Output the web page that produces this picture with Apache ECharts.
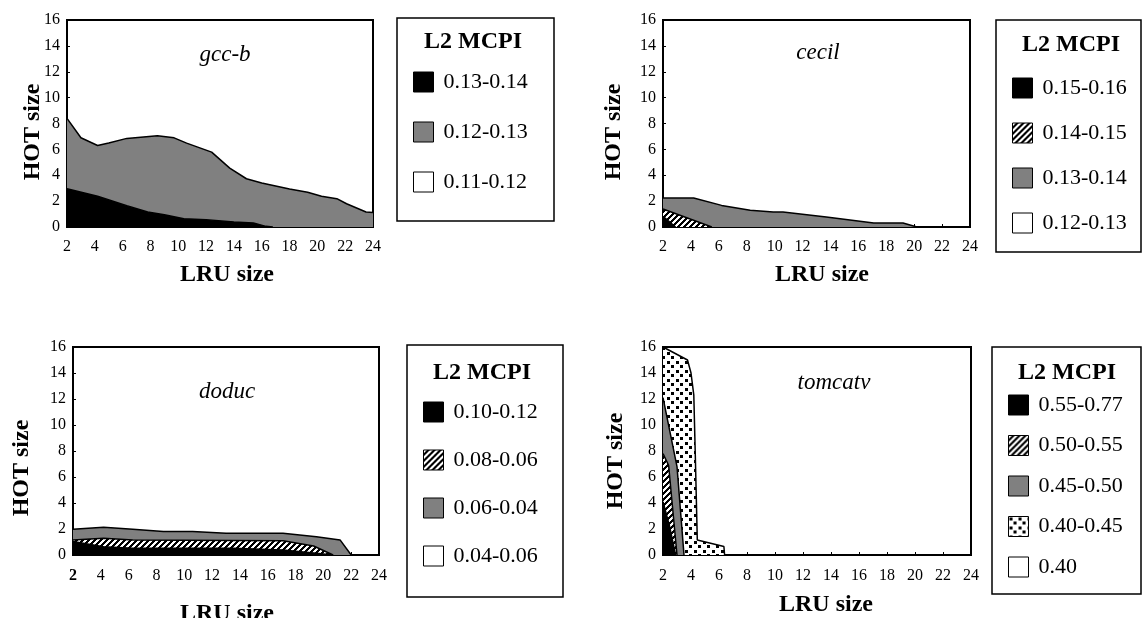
<!DOCTYPE html>
<html><head><meta charset="utf-8">
<script src="https://cdn.jsdelivr.net/npm/echarts@6/dist/echarts.min.js"></script>
<style>
html,body{margin:0;padding:0;background:#fff;width:1144px;height:618px;overflow:hidden}
.c{position:absolute;left:0;top:0;width:1144px;height:618px}
</style></head>
<body>
<div id="p1" class="c"></div>
<div id="p2" class="c"></div>
<div id="p3" class="c"></div>
<div id="p4" class="c"></div>
<script>
// ---------- data (cumulative upper boundary of each MCPI band, [LRU size, HOT size]) ----------
const xTickValues = [2, 4, 6, 8, 10, 12, 14, 16, 18, 20, 22, 24];
const yTickValues = [0, 2, 4, 6, 8, 10, 12, 14, 16];

const gccNames = ['0.13-0.14', '0.12-0.13', '0.11-0.12'];
const gccBand1 = [[2,2.96],[4.2,2.37],[6.3,1.65],[7.8,1.16],[9,0.95],[10.4,0.64],[12,0.57],[14,0.39],[15.4,0.31],[16.3,0.05],[16.8,0]];
const gccBand2 = [[2,8.4],[3,6.9],[4.2,6.3],[5,6.5],[6.3,6.85],[8.5,7.05],[9.7,6.89],[10.6,6.48],[12.4,5.79],[13.7,4.55],[14.9,3.73],[16,3.4],[18,2.93],[19.3,2.68],[20.3,2.37],[21.4,2.19],[22.1,1.8],[23.5,1.16],[24,1.13]];

const cecilNames = ['0.15-0.16', '0.14-0.15', '0.13-0.14', '0.12-0.13'];
const cecilBand1 = [[2,0.82],[2.9,0]];
const cecilBand2 = [[2,1.39],[5.5,0]];
const cecilBand3 = [[2,2.24],[4.2,2.24],[6.2,1.67],[8.25,1.29],[9.9,1.16],[10.6,1.16],[13.7,0.77],[17.1,0.31],[19.2,0.31],[20.2,0]];

const doducNames = ['0.10-0.12', '0.08-0.06', '0.06-0.04', '0.04-0.06'];
const doducBand1 = [[2,1.03],[4.2,0.64],[6.3,0.51],[13.5,0.51],[17.1,0.39],[19.5,0.13],[20.7,0]];
const doducBand2 = [[2,1.16],[4.2,1.28],[6.3,1.16],[17.1,1.1],[19.3,0.69],[20.7,0]];
const doducBand3 = [[2,1.98],[4.2,2.13],[6.3,1.98],[8.5,1.8],[10.6,1.8],[13,1.67],[17.1,1.67],[19.5,1.41],[21.2,1.16],[22,0]];

const tomNames = ['0.55-0.77', '0.50-0.55', '0.45-0.50', '0.40-0.45', '0.40'];
const tomBand1 = [[2,4.1],[2.45,2.3],[2.9,0]];
const tomBand2 = [[2,7.8],[2.4,6.9],[3.0,0]];
const tomBand3 = [[2,12.1],[3.0,6.8],[3.5,0]];
const tomBand4 = [[2,16],[3.75,15],[4.0,14],[4.2,12.3],[4.3,8],[4.45,1.15],[6.35,0.65],[6.4,0]];

// ---------- styles ----------
const FONT = 'Liberation Serif';
const GRAY = '#808080';

function patternCanvas(kind) {
  const n = kind === 'hatch' ? 6 : 9;
  const c = document.createElement('canvas');
  c.width = n; c.height = n;
  const ctx = c.getContext('2d');
  ctx.fillStyle = '#fff'; ctx.fillRect(0, 0, n, n);
  ctx.fillStyle = '#000';
  if (kind === 'hatch') {
    for (let x = 0; x < n; x++) for (let y = 0; y < n; y++) {
      const k = (x + y) % n;
      if (k === 3 || k === 4 || k === 5) ctx.fillRect(x, y, 1, 1);
    }
  } else {
    ctx.fillRect(1, 1, 3, 3);
    ctx.fillRect(5, 5, 3, 3);
  }
  return c;
}
const HATCH = {image: patternCanvas('hatch'), repeat: 'repeat'};
const DOTS = {image: patternCanvas('dots'), repeat: 'repeat'};
const FILLS = {black:'#000', gray:GRAY, white:'#fff', hatch:HATCH, dots:DOTS};

function band(name, data, kind) {
  const f = FILLS[kind];
  return {type:'line', name:name, data:data, symbol:'none', showSymbol:false, silent:true,
    lineStyle:{color:'#000', width:1.5}, areaStyle:{color:f, opacity:1}, itemStyle:{color:'#000'}};
}
function legendItem(name, kind) {
  return {name:name, icon:'rect', itemStyle:{color:FILLS[kind], borderColor:'#000', borderWidth:1, decal:'none'}};
}

function panel(id, p) {
  const chart = echarts.init(document.getElementById(id), null, {renderer:'canvas'});
  const g = p.grid;
  const txt = (t, x, y, size, weight, style, rot) => ({type:'text', x:x, y:y, rotation:rot||0,
    style:{text:t, x:0, y:0, font:(style||'normal') + ' ' + (weight||'normal') + ' ' + size + 'px "' + FONT + '"', fill:'#000', textAlign:'center', textVerticalAlign:'middle'}});
  chart.setOption({
    animation:false,
    backgroundColor:'transparent',
    grid:{left:g[0], top:g[1], width:g[2], height:g[3], show:true, borderColor:'#000', borderWidth:2, backgroundColor:'transparent'},
    xAxis:{type:'value', min:2, max:24, interval:2,
      axisLine:{show:true, lineStyle:{color:'#000', width:2}},
      axisTick:{show:true, inside:true, length:3, lineStyle:{color:'#000', width:1}},
      splitLine:{show:false},
      axisLabel:{color:'#000', fontFamily:FONT, fontSize:16, margin:p.xMargin,
        formatter: p.boldFirst ? (v => v === 2 ? '{b|2}' : String(v)) : (v => String(v)),
        rich:{b:{fontWeight:'bold', fontFamily:FONT, fontSize:16, color:'#000'}}}},
    yAxis:{type:'value', min:0, max:16, interval:2,
      axisLine:{show:true, lineStyle:{color:'#000', width:2}},
      axisTick:{show:true, inside:true, length:3, lineStyle:{color:'#000', width:1}},
      splitLine:{show:false},
      axisLabel:{color:'#000', fontFamily:FONT, fontSize:16, margin:7}},
    legend:{orient:'vertical', left:p.leg.sq, top:p.leg.top, padding:0, itemWidth:20, itemHeight:20, itemGap:p.leg.gap,
      selectedMode:false, icon:'rect',
      textStyle:{fontFamily:FONT, fontSize:22, color:'#000', lineHeight:22, padding:[0,0,0,5]},
      data:p.legendData},
    graphic:[
      {type:'rect', shape:{x:p.box[0], y:p.box[1], width:p.box[2], height:p.box[3]}, style:{fill:'none', stroke:'#000', lineWidth:1.5}, silent:true},
      txt('L2 MCPI', p.legTitle[0], p.legTitle[1], 24, 'bold'),
      txt(p.title, p.titlePos[0], p.titlePos[1], 23, 'normal', 'italic'),
      txt('HOT size', p.yName[0], p.yName[1], 24, 'bold', 'normal', Math.PI/2),
      txt('LRU size', p.xName[0], p.xName[1], 24, 'bold')
    ],
    series:p.series
  });
}

panel('p1', {
  grid:[67, 20, 306, 207], xMargin:12, title:'gcc-b', titlePos:[225,55], yName:[33,132], xName:[227,275],
  box:[397,18,157,203], legTitle:[473,42], leg:{sq:413, top:71, gap:28},
  legendData:[legendItem(gccNames[0],'black'), legendItem(gccNames[1],'gray'), legendItem(gccNames[2],'white')],
  series:[band(gccNames[2], [], 'white'), band(gccNames[1], gccBand2, 'gray'), band(gccNames[0], gccBand1, 'black')]
});
panel('p2', {
  grid:[663, 20, 307, 207], xMargin:12, title:'cecil', titlePos:[818,53], yName:[614,132], xName:[822,275],
  box:[996,20,145,232], legTitle:[1071,45], leg:{sq:1012, top:77, gap:23},
  legendData:[legendItem(cecilNames[0],'black'), legendItem(cecilNames[1],'hatch'), legendItem(cecilNames[2],'gray'), legendItem(cecilNames[3],'white')],
  series:[band(cecilNames[3], [], 'white'), band(cecilNames[2], cecilBand3, 'gray'), band(cecilNames[1], cecilBand2, 'hatch'), band(cecilNames[0], cecilBand1, 'black')]
});
panel('p3', {
  grid:[73, 347, 306, 208], xMargin:13, boldFirst:true, title:'doduc', titlePos:[227,392], yName:[22,468], xName:[227,614],
  box:[407,345,156,252], legTitle:[482,373], leg:{sq:423, top:401, gap:26},
  legendData:[legendItem(doducNames[0],'black'), legendItem(doducNames[1],'hatch'), legendItem(doducNames[2],'gray'), legendItem(doducNames[3],'white')],
  series:[band(doducNames[3], [], 'white'), band(doducNames[2], doducBand3, 'gray'), band(doducNames[1], doducBand2, 'hatch'), band(doducNames[0], doducBand1, 'black')]
});
panel('p4', {
  grid:[663, 347, 308, 208], xMargin:13, title:'tomcatv', titlePos:[834,383], yName:[616,461], xName:[826,605],
  box:[992,347,149,247], legTitle:[1067,373], leg:{sq:1008, top:394, gap:18.5},
  legendData:[legendItem(tomNames[0],'black'), legendItem(tomNames[1],'hatch'), legendItem(tomNames[2],'gray'), legendItem(tomNames[3],'dots'), legendItem(tomNames[4],'white')],
  series:[band(tomNames[4], [], 'white'), band(tomNames[3], tomBand4, 'dots'), band(tomNames[2], tomBand3, 'gray'), band(tomNames[1], tomBand2, 'hatch'), band(tomNames[0], tomBand1, 'black')]
});
</script>
</body></html>
